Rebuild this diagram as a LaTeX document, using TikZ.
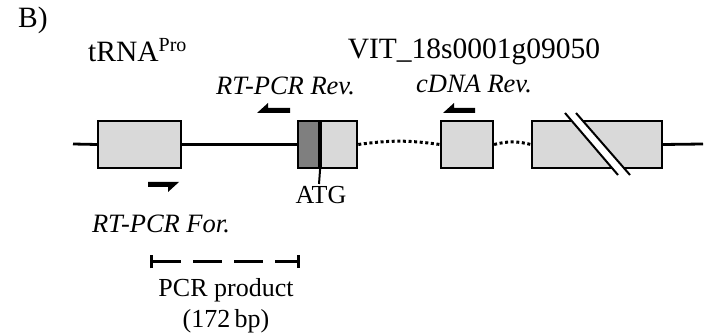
\documentclass[tikz,border=0pt]{standalone}
\usepackage{fontspec}
\setmainfont{Liberation Serif}
\usetikzlibrary{arrows.meta,positioning}
\definecolor{exgrey}{HTML}{D9D9D9}
\definecolor{utrgrey}{HTML}{7F7F7F}

\begin{document}
\begin{tikzpicture}[
  x=1pt, y=-1pt,
  exon/.style={draw=black, line width=2.2pt, fill=exgrey, inner sep=0pt,
               minimum height=47pt},
  utr/.style={exon, fill=utrgrey},
  backbone/.style={line width=2.8pt, black},
  intron/.style={line width=3pt, dash pattern=on 3pt off 2.6pt},
  primer/.style={fill=black},
  lbl/.style={font=\fontsize{26}{30}\selectfont, inner sep=0pt, anchor=base},
  plbl/.style={lbl, font=\fontsize{26.5}{30}\selectfont\itshape},
  title/.style={lbl, font=\fontsize{29.5}{34}\selectfont},
]
  \useasboundingbox (0,0) rectangle (706,336);

  %% titles
  \node[title, anchor=base west] (panel) at (18,28) {B)};
  \node[title, anchor=base west] (trnalbl) at (88,62)
    {tRNA\raisebox{10pt}{\fontsize{20}{22}\selectfont Pro}};
  \node[title] (genelbl) at (474,59) {VIT\_18s0001g09050};

  %% exons
  \node[exon, minimum width=83pt] (trna) at (139.5,144.5) {};
  \node[utr,  minimum width=21pt] (utr5) at (308.5,144.5) {};
  \node[exon, minimum width=36pt, right=0pt of utr5] (ex1) {};
  \node[exon, minimum width=52pt] (ex2) at (467,144.5) {};
  \node[exon, minimum width=130pt] (ex3) at (597,144.5) {};

  %% backbone and introns
  \coordinate (lend) at (73,144);
  \coordinate (rend) at (703,144);
  \draw[backbone] (lend) -- (trna.west);
  \draw[backbone] (trna.east) -- (utr5.west);
  \draw[backbone] (ex3.east) -- (rend);
  \draw[intron] (ex1.east) to[bend left=8] (ex2.west);
  \draw[intron] (ex2.east) to[bend left=14] (ex3.west);

  %% break in last exon
  \fill[white] (565,113) -- (576,113) -- (630,175) -- (618,175) -- cycle;
  \draw[line width=2pt] (565,113) -- (618,175);
  \draw[line width=2pt] (576,113) -- (630,175);

  %% ATG
  \node[lbl] (atg) at (321,204) {ATG};
  \coordinate (tickend) at (319,184);
  \draw[line width=2pt] (ex1.south west) -- (tickend);

  %% primers
  \fill[primer] (148,182) -- (179,182) -- (168,192) -- (168,187) -- (148,187) -- cycle;
  \fill[primer] (290,113) -- (257,113) -- (268,103) -- (268,108) -- (290,108) -- cycle;
  \fill[primer] (475,113) -- (443,113) -- (454,103) -- (454,108) -- (475,108) -- cycle;
  \node[plbl] (revlbl) at (285.5,95) {RT-PCR Rev.};
  \node[plbl] (cdnalbl) at (474,93) {cDNA Rev.};
  \node[plbl] (forlbl) at (161,233) {RT-PCR For.};

  %% PCR product
  \coordinate (pcrL) at (150,262);
  \coordinate (pcrR) at (300,262);
  \draw[line width=3pt, dash pattern=on 29pt off 12pt,
        {Bar[width=13pt,line width=3pt]}-{Bar[width=13pt,line width=3pt]}] (pcrL) -- (pcrR);
  \node[lbl] (prodlbl) at (226,297) {PCR product};
  \node[lbl] (sizelbl) at (226,327) {(172\,bp)};
\end{tikzpicture}
\end{document}
